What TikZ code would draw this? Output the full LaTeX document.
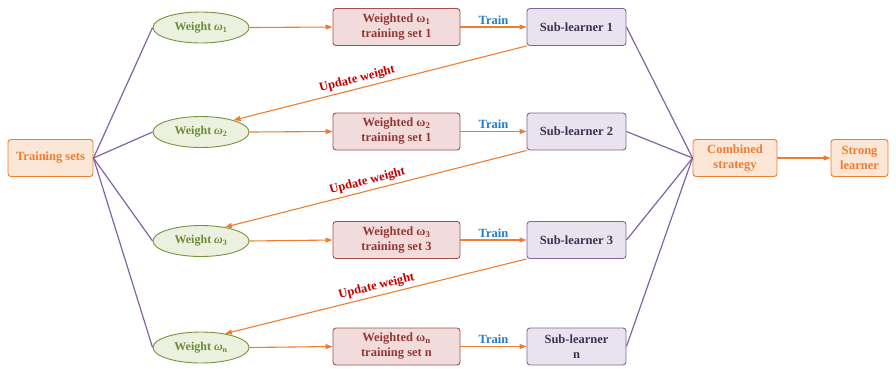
\documentclass[tikz,border=0pt]{standalone}
\usepackage{fontspec}
\setmainfont{Liberation Serif}
\usetikzlibrary{arrows.meta,shapes.geometric}

\definecolor{orgline}{HTML}{ED7D31}
\definecolor{orgfill}{HTML}{FCE6D6}
\definecolor{grnline}{HTML}{77933C}
\definecolor{grnfill}{HTML}{EBF1DE}
\definecolor{grntext}{HTML}{6E8B37}
\definecolor{redline}{HTML}{A5504D}
\definecolor{redfill}{HTML}{F2DCDB}
\definecolor{redtext}{HTML}{953735}
\definecolor{purline}{HTML}{8064A2}
\definecolor{purfill}{HTML}{E8E3EF}
\definecolor{purtext}{HTML}{3F3151}
\definecolor{traintext}{HTML}{1F7DC8}
\definecolor{updtext}{HTML}{C00000}

\tikzset{
  base/.style={font=\bfseries\fontsize{12.5}{15}\selectfont, align=center, inner sep=0pt, line width=0.9pt},
  orgbox/.style={base, draw=orgline, fill=orgfill, text=orgline, rounded corners=3pt, minimum height=37pt},
  wellipse/.style={base, font=\bfseries\fontsize{12}{14}\selectfont, ellipse, draw=grnline, fill=grnfill, text=grntext, minimum width=96pt, minimum height=31pt},
  wbox/.style={base, draw=redline, fill=redfill, text=redtext, rounded corners=3pt, minimum width=127pt, minimum height=37pt},
  subbox/.style={base, draw=purline, fill=purfill, text=purtext, rounded corners=3pt, minimum width=99pt, minimum height=37pt},
  flow/.style={draw=orgline, line width=1.1pt, -{Triangle[length=7pt,width=5pt]}},
  link/.style={draw=purline, line width=1.2pt},
  trainlbl/.style={font=\bfseries\fontsize{12.5}{14}\selectfont, text=traintext, above, inner sep=2pt},
  updlbl/.style={font=\bfseries\fontsize{12.5}{14}\selectfont, text=updtext, sloped, above, inner sep=3pt},
}

\begin{document}
\begin{tikzpicture}[x=1pt,y=-1pt]
\useasboundingbox (0,0) rectangle (896,368);

% source and sink
\node[orgbox, minimum width=85pt] (ts) at (50.5,158) {Training sets};
\node[orgbox, minimum width=84pt] (cs) at (735,158) {Combined\\strategy};
\node[orgbox, minimum width=57pt] (sl) at (859.5,158) {Strong\\learner};

% weights
\node[wellipse] (w1) at (201,27.5) {Weight {\itshape ω}\textsubscript{1}};
\node[wellipse] (w2) at (201,132) {Weight {\itshape ω}\textsubscript{2}};
\node[wellipse] (w3) at (201,241) {Weight {\itshape ω}\textsubscript{3}};
\node[wellipse] (wn) at (201,347.5) {Weight {\itshape ω}\textsubscript{n}};

% weighted training sets
\node[wbox] (d1) at (396.5,27) {Weighted ω\textsubscript{1}\\training set 1};
\node[wbox] (d2) at (396.5,131.5) {Weighted ω\textsubscript{2}\\training set 1};
\node[wbox] (d3) at (396.5,240) {Weighted ω\textsubscript{3}\\training set 3};
\node[wbox] (dn) at (396.5,346.5) {Weighted ω\textsubscript{n}\\training set n};

% sub-learners
\node[subbox] (s1) at (576.5,27) {Sub-learner 1};
\node[subbox] (s2) at (576.5,131.5) {Sub-learner 2};
\node[subbox] (s3) at (576.5,240) {Sub-learner 3};
\node[subbox] (sn) at (576.5,346.5) {Sub-learner\\n};

% fan-out and fan-in
\foreach \w in {w1,w2,w3,wn} \draw[link] (ts.east) -- (\w.west);
\foreach \s in {s1,s2,s3,sn} \draw[link] (\s.east) -- (cs.west);

% main flow
\foreach \w/\d/\s in {w1/d1/s1,w2/d2/s2,w3/d3/s3,wn/dn/sn}{
  \draw[flow] (\w.east) -- (\d.west);
  \draw[flow] (\d.east) -- node[trainlbl] {Train} (\s.west);
}
\draw[flow] (cs.east) -- (sl.west);

% weight updates
\draw[flow] (s1.south west) -- node[updlbl, pos=0.57] {Update weight} (w2.20);
\draw[flow] (s2.south west) -- node[updlbl, pos=0.52] {Update weight} (w3.30);
\draw[flow] (s3.south west) -- node[updlbl, pos=0.49] {Update weight} (wn.30);
\end{tikzpicture}
\end{document}
